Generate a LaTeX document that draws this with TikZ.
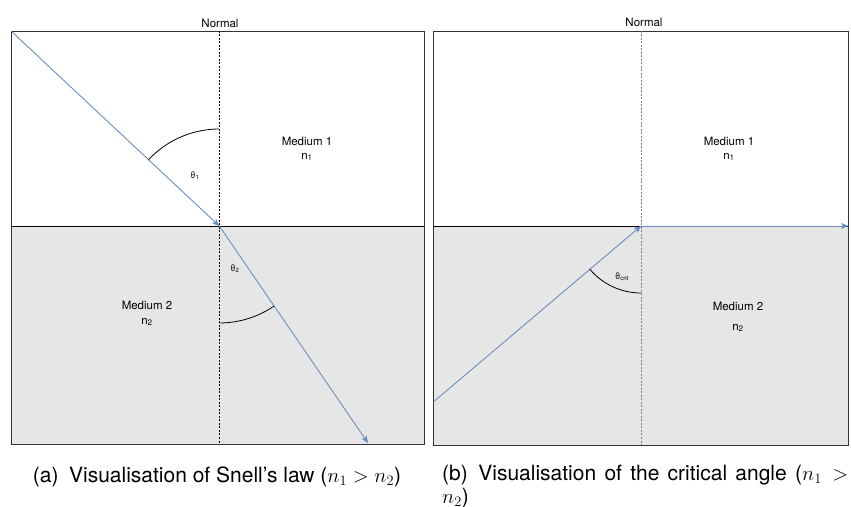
\documentclass[tikz,border=0pt]{standalone}
\usepackage{fontspec}
\setmainfont{TeX Gyre Heros}
\usetikzlibrary{arrows.meta}
\definecolor{raycol}{HTML}{6C8EBF}
\definecolor{medgray}{HTML}{E6E6E6}
\definecolor{boxcol}{HTML}{333333}
\begin{document}
\begin{tikzpicture}[x=1pt,y=1pt,
  ray/.style={draw=raycol,line width=0.9pt},
  raytip/.style={ray,-{Stealth[length=7pt,width=6pt,inset=1.5pt]}},
  panel/.style={draw=boxcol,line width=0.9pt},
  normalline/.style={line width=0.7pt,dash pattern=on 2pt off 1.5pt},
  anglearc/.style={draw=black,line width=0.8pt},
  lbl/.style={inner sep=0pt,font=\fontsize{11.5}{13}\selectfont},
  smalllbl/.style={inner sep=0pt,font=\fontsize{9}{10}\selectfont},
  capt/.style={inner sep=0pt,font=\fontsize{21}{23}\selectfont}
]
\useasboundingbox (0,0) rectangle (851,506);
% ---------------- left panel ----------------
\fill[medgray] (11,62) rectangle (424,280);
\draw[panel] (11,62) rectangle (424,475);
\draw[black,line width=0.9pt] (11,280) -- (424,280);
\coordinate (La) at (219.3,475);
\coordinate (Lb) at (219.3,62);
\draw[normalline,black] (La) -- (Lb);
\coordinate (Lc) at (219.3,280);
\coordinate (Lin) at (11,475);
\coordinate (Lout) at (368,63);
\draw[raytip] (Lin) -- (Lc);
\draw[raytip] (Lc) -- (Lout);
\draw[anglearc] ([shift={(90:97)}]Lc) arc[start angle=90,end angle=136.9,radius=97];
\draw[anglearc] ([shift={(-90:97)}]Lc) arc[start angle=-90,end angle=-55.6,radius=97];
\node[lbl] (Lnormal) at (220,483) {Normal};
\node[smalllbl] (Lt1) at (195,330) {θ\textsubscript{1}};
\node[smalllbl] (Lt2) at (235,237) {θ\textsubscript{2}};
\node[lbl] (Lm1) at (307,365) {Medium 1};
\node[lbl] (Ln1) at (307,349) {n\textsubscript{1}};
\node[lbl] (Lm2) at (147,201) {Medium 2};
\node[lbl] (Ln2) at (147,184) {n\textsubscript{2}};
% ---------------- right panel ----------------
\fill[medgray] (433.3,60.7) rectangle (848.3,280);
\draw[panel] (433.3,60.7) rectangle (848.3,475);
\draw[black,line width=0.9pt] (433.3,280) -- (848.3,280);
\coordinate (Ra) at (641,475);
\coordinate (Rb) at (641,60.7);
\draw[normalline,gray] (Ra) -- (Rb);
\coordinate (Rc) at (641,280);
\coordinate (Rin) at (433.3,104);
\coordinate (Rout) at (848.3,280);
\draw[raytip] (Rin) -- (Rc);
\draw[raytip] (Rc) -- (Rout);
\draw[anglearc] ([shift={(220.3:67)}]Rc) arc[start angle=220.3,end angle=270,radius=67];
\node[lbl] (Rnormal) at (644,484) {Normal};
\node[smalllbl] (Rtc) at (622,229) {θ\textsubscript{crit}};
\node[lbl] (Rm1) at (729,365) {Medium 1};
\node[lbl] (Rn1) at (729,349) {n\textsubscript{1}};
\node[lbl] (Rm2) at (738,200) {Medium 2};
\node[lbl] (Rn2) at (738,178) {n\textsubscript{2}};
% ---------------- captions ----------------
\node[capt] (capa) at (217,29) {(a)\enspace Visualisation of Snell’s law ($n_1 > n_2$)};
\node[capt,anchor=north west,text width=406pt,align=justify] (capb) at (442,41)
  {(b)\enspace Visualisation of the critical angle ($n_1 >$\linebreak $n_2$)};
\end{tikzpicture}
\end{document}
